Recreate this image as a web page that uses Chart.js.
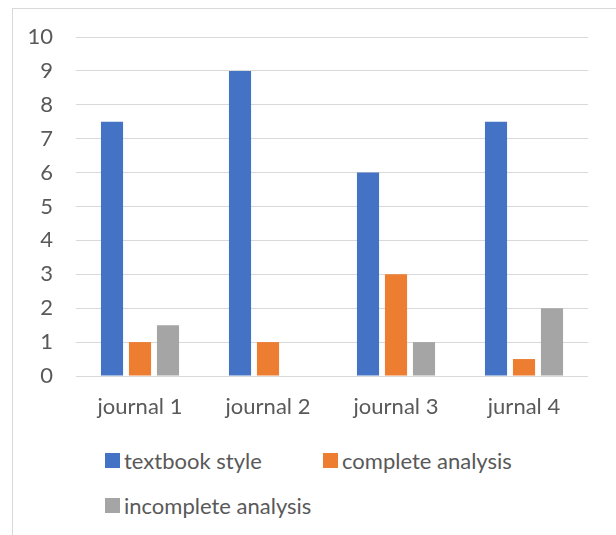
<!DOCTYPE html>
<html>
<head>
<meta charset="utf-8">
<script src="https://cdn.jsdelivr.net/npm/chart.js@4"></script>
<style>
  body { margin: 0; background: #fff; font-family: Lato, sans-serif; }
  #frame { position: absolute; left: 12px; top: 8px; width: 620px; height: 540px; border: 1px solid #d9d9d9; }
  #wrap { position: absolute; left: 0; top: 0; width: 616px; height: 440px; }
  #legend { position: absolute; left: 105px; top: 445px; display: grid; grid-template-columns: 218px 218px; row-gap: 15px; color: #595959; font-size: 22px; }
  #legend div { display: flex; align-items: center; height: 30px; white-space: nowrap; }
  #legend span.box { display: inline-block; width: 15px; height: 15px; margin-right: 4px; }
</style>
</head>
<body>
<div id="frame"></div>
<div id="wrap"><canvas id="chart"></canvas></div>
<div id="legend"></div>
<script>
const categories = ["journal 1", "journal 2", "journal 3", "jurnal 4"];
const textbookStyle = [7.5, 9, 6, 7.5];
const completeAnalysis = [1, 1, 3, 0.5];
const incompleteAnalysis = [1.5, 0, 1, 2];
const seriesNames = ["textbook style", "complete analysis", "incomplete analysis"];
const colors = ["#4472C4", "#ED7D31", "#A5A5A5"];

const datasets = [textbookStyle, completeAnalysis, incompleteAnalysis].map((vals, i) => ({
    label: seriesNames[i],
    data: vals,
    backgroundColor: colors[i],
    categoryPercentage: 0.656,
    barPercentage: 0.79
}));

const ctx = document.getElementById("chart").getContext("2d");
new Chart(ctx, {
    type: "bar",
    data: { labels: categories, datasets: datasets },
    options: {
        responsive: true,
        maintainAspectRatio: false,
        animation: false,
        layout: { padding: { top: 37, right: 28, left: 0, bottom: 0 } },
        plugins: { legend: { display: false }, tooltip: { enabled: false } },
        scales: {
            x: {
                grid: { display: false, drawTicks: false },
                border: { display: false },
                ticks: { color: "#595959", font: { family: "Lato", size: 22 }, padding: 18, maxRotation: 0 },
                afterFit: s => { s.height = 64; }
            },
            y: {
                min: 0, max: 10,
                grid: { color: "#d9d9d9", lineWidth: 1, drawTicks: false },
                border: { display: false },
                ticks: { stepSize: 1, color: "#595959", font: { family: "Lato", size: 22 }, padding: 23 },
                afterFit: s => { s.width = 76; }
            }
        }
    }
});

// legend laid out in columns like the original
const legend = document.getElementById("legend");
seriesNames.forEach((name, i) => {
    const item = document.createElement("div");
    item.innerHTML = '<span class="box" style="background:' + colors[i] + '"></span>' + name;
    legend.appendChild(item);
});
</script>
</body>
</html>
